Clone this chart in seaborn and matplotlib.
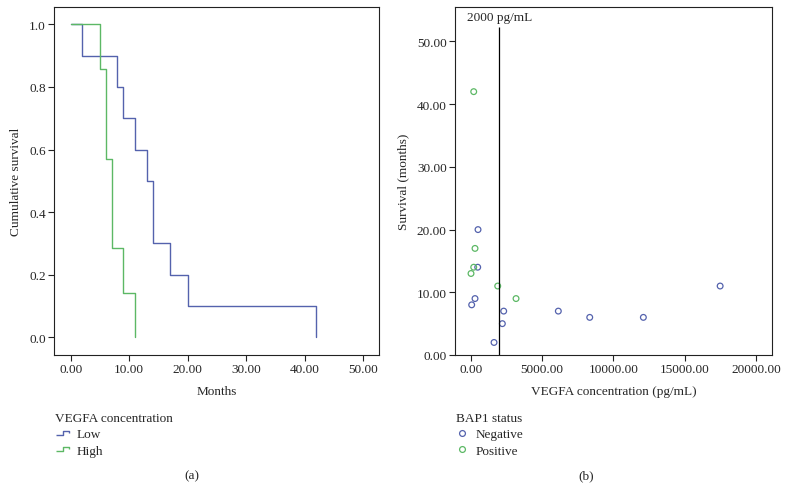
import numpy as np
import pandas as pd
import matplotlib
matplotlib.use("Agg")
import matplotlib.pyplot as plt
from matplotlib.lines import Line2D
from matplotlib.path import Path
import seaborn as sns

sns.set_theme(style="white")
plt.rcParams["font.family"] = ["Liberation Serif", "DejaVu Serif"]

# (a) Kaplan-Meier step values
low_times = [0, 2, 8, 9, 11, 13, 14, 17, 20, 42]
low_surv = [1.0, 0.9, 0.8, 0.7, 0.6, 0.5, 0.3, 0.2, 0.1, 0.0]
high_times = [0, 5, 6, 7, 9, 11]
high_surv = [1.0, 0.857, 0.571, 0.286, 0.143, 0.0]
km_groups = ["Low", "High"]

# (b) VEGFA concentration vs survival
neg_vegfa = [492, 470, 281, 47, 2295, 2200, 1616, 6130, 8335, 12100, 17490]
neg_surv = [20, 14, 9, 8, 7, 5, 2, 7, 6, 6, 11]
pos_vegfa = [190, 281, 190, 0, 1875, 3161]
pos_surv = [42, 17, 14, 13, 11, 9]
bap1_levels = ["Negative", "Positive"]
cutoff = 2000

BLUE = "#5462ad"
GREEN = "#5cb865"
FS = 9.5

fig = plt.figure(figsize=(7.87, 5.02), dpi=100)
ax1 = fig.add_axes([54 / 787, 1 - 356 / 502, 325 / 787, 348 / 502])
ax2 = fig.add_axes([455 / 787, 1 - 356 / 502, 316.7 / 787, 348 / 502])

# ---- panel a
for times, surv, col in [(low_times, low_surv, BLUE), (high_times, high_surv, GREEN)]:
    sns.lineplot(x=times, y=surv, drawstyle="steps-post", estimator=None,
                 color=col, linewidth=1.0, ax=ax1)

ax1.set_xlim(-2.85, 52.7)
ax1.set_ylim(-0.056, 1.055)
ax1.set_xticks(np.arange(0, 51, 10))
ax1.set_xticklabels([f"{v:.2f}" for v in np.arange(0, 51, 10)])
ax1.set_yticks(np.arange(0, 1.01, 0.2))
ax1.set_yticklabels([f"{v:.1f}" for v in np.arange(0, 1.01, 0.2)])
ax1.set_xlabel("Months", fontsize=FS, labelpad=7)
ax1.set_ylabel("Cumulative survival", fontsize=FS, labelpad=5)

# legend glyph: low run, step up, high run, short drop
step = Path([(-1, -0.3), (0, -0.3), (0, 0.3), (0.85, 0.3), (0.85, 0.0)],
            [Path.MOVETO, Path.LINETO, Path.LINETO, Path.LINETO, Path.LINETO])
km_handles = [Line2D([], [], color=c, marker=step, linestyle="none",
                     markersize=10, markeredgewidth=1.0, fillstyle="none")
              for c in (BLUE, GREEN)]
fig.legend(km_handles, km_groups, title="VEGFA concentration",
           loc="upper left", bbox_to_anchor=(50 / 787, 1 - 408 / 502),
           frameon=False, fontsize=FS, title_fontsize=FS,
           alignment="left", handlelength=1.1, handletextpad=0.5,
           labelspacing=0.3, borderaxespad=0)

# ---- panel b
df_b = pd.DataFrame({
    "vegfa": neg_vegfa + pos_vegfa,
    "surv": neg_surv + pos_surv,
    "bap1": [bap1_levels[0]] * len(neg_vegfa) + [bap1_levels[1]] * len(pos_vegfa),
})
sns.scatterplot(data=df_b, x="vegfa", y="surv", hue="bap1",
                palette={bap1_levels[0]: BLUE, bap1_levels[1]: GREEN},
                s=17, linewidth=0.9, legend=False, ax=ax2)
coll = ax2.collections[0]
coll.set_edgecolors(coll.get_facecolors())
coll.set_facecolors("none")

ax2.vlines(cutoff, 0, 52.3, color="black", linewidth=0.9)
ax2.text(cutoff, 53.0, "2000 pg/mL", ha="center", va="bottom", fontsize=FS)

ax2.set_xlim(-1124, 21110)
ax2.set_ylim(0, 55.5)
xt = np.arange(0, 20001, 5000)
ax2.set_xticks(xt)
ax2.set_xticklabels([f"{v:.2f}" for v in xt])
yt = np.arange(0, 51, 10)
ax2.set_yticks(yt)
ax2.set_yticklabels([f"{v:.2f}" for v in yt])
ax2.set_xlabel("VEGFA concentration (pg/mL)", fontsize=FS, labelpad=7)
ax2.set_ylabel("Survival (months)", fontsize=FS, labelpad=5)

bap_handles = [Line2D([], [], color=c, marker="o", linestyle="none",
                      markersize=4.2, markeredgewidth=0.9, fillstyle="none")
               for c in (BLUE, GREEN)]
fig.legend(bap_handles, bap1_levels, title="BAP1 status",
           loc="upper left", bbox_to_anchor=(451 / 787, 1 - 408 / 502),
           frameon=False, fontsize=FS, title_fontsize=FS,
           alignment="left", handlelength=0.9, handletextpad=0.6,
           labelspacing=0.3, borderaxespad=0)

for ax in (ax1, ax2):
    for sp in ax.spines.values():
        sp.set_color("#222222")
        sp.set_linewidth(0.8)
    ax.tick_params(axis="both", direction="out", length=4, width=0.8,
                   color="#222222", labelsize=FS, pad=2, bottom=True, left=True)
    ax.grid(False)

fig.text(192 / 787, 1 - 476 / 502, "(a)", ha="center", va="center", fontsize=FS)
fig.text(586 / 787, 1 - 476 / 502, "(b)", ha="center", va="center", fontsize=FS)

fig.savefig("out.png", dpi=100)
